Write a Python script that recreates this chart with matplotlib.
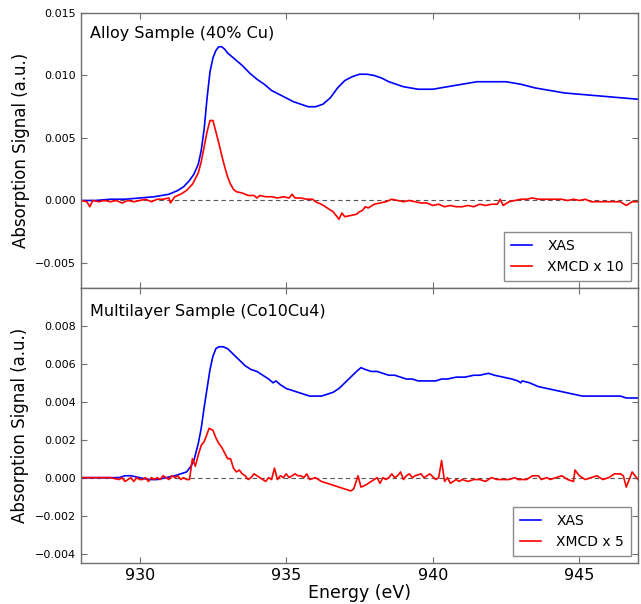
import matplotlib
matplotlib.use("Agg")
import matplotlib.pyplot as plt
from matplotlib.ticker import FuncFormatter

# ---- alloy sample (40% Cu) ----
E_alloy_xas = [928.0, 928.5, 929.0, 929.5, 930.0, 930.5, 931.0, 931.3, 931.5, 931.7,
               931.85, 932.0, 932.1, 932.2, 932.3, 932.4, 932.5, 932.6, 932.7, 932.8,
               932.9, 933.0, 933.25, 933.5, 933.75, 934.0, 934.25, 934.5, 934.75, 935.0,
               935.25, 935.5, 935.75, 936.0, 936.25, 936.5, 936.75, 937.0, 937.25, 937.5,
               937.75, 938.0, 938.25, 938.5, 938.75, 939.0, 939.25, 939.5, 939.75, 940.0,
               940.5, 941.0, 941.5, 942.0, 942.5, 943.0, 943.5, 944.0, 944.5, 945.0,
               945.5, 946.0, 946.5, 947.0]
alloy_xas = [0.0000, 0.0000, 0.0001, 0.0001, 0.0002, 0.0003, 0.0005, 0.0008, 0.0011, 0.0016,
             0.0021, 0.0029, 0.0040, 0.0057, 0.0082, 0.0103, 0.0114, 0.0120, 0.0123, 0.0123,
             0.0121, 0.0118, 0.0113, 0.0108, 0.0102, 0.0097, 0.0093, 0.0088, 0.0085, 0.0082,
             0.0079, 0.0077, 0.0075, 0.0075, 0.0077, 0.0082, 0.0090, 0.0096, 0.0099, 0.0101,
             0.0101, 0.0100, 0.0098, 0.0095, 0.0093, 0.0091, 0.0090, 0.0089, 0.0089, 0.0089,
             0.0091, 0.0093, 0.0095, 0.0095, 0.0095, 0.0093, 0.0090, 0.0088, 0.0086, 0.0085,
             0.0084, 0.0083, 0.0082, 0.0081]

E_alloy_xmcd = [928.0, 928.2, 928.3, 928.4, 928.6, 928.8, 929.0, 929.2, 929.4, 929.6,
                929.8, 930.0, 930.2, 930.4, 930.6, 930.8, 931.0, 931.05, 931.2, 931.4,
                931.6, 931.8, 932.0, 932.1, 932.2, 932.3, 932.4, 932.5, 932.6, 932.7,
                932.8, 932.9, 933.0, 933.1, 933.2, 933.3, 933.5, 933.7, 933.9, 934.0,
                934.1, 934.3, 934.5, 934.7, 934.9, 935.1, 935.2, 935.3, 935.5, 935.7,
                935.9, 936.0, 936.2, 936.4, 936.6, 936.7, 936.8, 936.9, 937.0, 937.2,
                937.4, 937.5, 937.6, 937.7, 937.8, 938.0, 938.2, 938.4, 938.6, 938.8,
                939.0, 939.2, 939.4, 939.6, 939.8, 940.0, 940.2, 940.4, 940.6, 940.8,
                941.0, 941.2, 941.4, 941.6, 941.8, 942.0, 942.2, 942.3, 942.4, 942.6,
                942.8, 943.0, 943.2, 943.4, 943.6, 943.8, 944.0, 944.2, 944.4, 944.6,
                944.8, 945.0, 945.2, 945.4, 945.6, 945.8, 946.0, 946.2, 946.4, 946.6,
                946.8, 947.0]
alloy_xmcd = [0.0000, -0.0001, -0.0005, 0.0000, -0.0001, 0.0000, -0.0001, 0.0000, -0.0002, 0.0000,
              -0.0001, 0.0000, 0.0001, -0.0001, 0.0001, 0.0001, 0.0002, -0.0002, 0.0003, 0.0005,
              0.0008, 0.0013, 0.0022, 0.0031, 0.0043, 0.0055, 0.0064, 0.0064, 0.0055, 0.0046,
              0.0036, 0.0027, 0.0019, 0.0013, 0.0009, 0.0007, 0.0006, 0.0004, 0.0004, 0.0002,
              0.0004, 0.0003, 0.0003, 0.0002, 0.0003, 0.0002, 0.0005, 0.0002, 0.0002, 0.0001,
              0.0001, -0.0001, -0.0003, -0.0006, -0.0009, -0.0012, -0.0015, -0.0010, -0.0013, -0.0012,
              -0.0011, -0.0009, -0.0008, -0.0005, -0.0006, -0.0003, -0.0002, -0.0001, 0.0001, 0.0000,
              -0.0001, 0.0000, -0.0001, -0.0002, -0.0002, -0.0004, -0.0003, -0.0005, -0.0004, -0.0005,
              -0.0005, -0.0004, -0.0005, -0.0003, -0.0004, -0.0003, -0.0003, 0.0001, -0.0004, -0.0001,
              0.0000, 0.0001, 0.0001, 0.0002, 0.0001, 0.0001, 0.0001, 0.0001, 0.0001, 0.0000,
              0.0001, 0.0000, 0.0001, -0.0001, -0.0001, -0.0001, -0.0001, -0.0001, -0.0001, -0.0004,
              -0.0001, -0.0001]

# ---- multilayer sample (Co10Cu4) ----
E_ml_xas = [928.0, 928.5, 929.0, 929.3, 929.5, 929.7, 930.0, 930.3, 930.6, 930.9,
            931.2, 931.4, 931.6, 931.75, 931.85, 932.0, 932.1, 932.2, 932.3, 932.4,
            932.5, 932.6, 932.7, 932.85, 933.0, 933.2, 933.4, 933.6, 933.8, 934.0,
            934.2, 934.4, 934.55, 934.65, 934.8, 935.0, 935.2, 935.4, 935.6, 935.8,
            936.0, 936.2, 936.4, 936.6, 936.8, 937.0, 937.2, 937.4, 937.55, 937.7,
            937.9, 938.1, 938.3, 938.5, 938.7, 938.9, 939.1, 939.3, 939.5, 939.8,
            940.1, 940.3, 940.5, 940.8, 941.1, 941.4, 941.6, 941.9, 942.1, 942.4,
            942.7, 942.9, 943.0, 943.05, 943.3, 943.6, 943.9, 944.2, 944.5, 944.8,
            945.1, 945.5, 946.0, 946.4, 946.6, 947.0]
ml_xas = [0.0000, 0.0000, 0.0000, 0.0000, 0.0001, 0.0001, 0.0000, -0.0001, -0.0001, 0.0000,
          0.0001, 0.0002, 0.0003, 0.0006, 0.0009, 0.0018, 0.0026, 0.0037, 0.0047, 0.0057,
          0.0064, 0.0068, 0.0069, 0.0069, 0.0068, 0.0065, 0.0062, 0.0059, 0.0057, 0.0056,
          0.0054, 0.0052, 0.0050, 0.0051, 0.0049, 0.0047, 0.0046, 0.0045, 0.0044, 0.0043,
          0.0043, 0.0043, 0.0044, 0.0045, 0.0047, 0.0050, 0.0053, 0.0056, 0.0058, 0.0057,
          0.0056, 0.0056, 0.0055, 0.0054, 0.0054, 0.0053, 0.0052, 0.0052, 0.0051, 0.0051,
          0.0051, 0.0052, 0.0052, 0.0053, 0.0053, 0.0054, 0.0054, 0.0055, 0.0054, 0.0053,
          0.0052, 0.0051, 0.0050, 0.0051, 0.0050, 0.0048, 0.0047, 0.0046, 0.0045, 0.0044,
          0.0043, 0.0043, 0.0043, 0.0043, 0.0042, 0.0042]

E_ml_xmcd = [928.0, 928.5, 929.0, 929.3, 929.4, 929.5, 929.6, 929.7, 929.8, 929.9,
             930.0, 930.1, 930.2, 930.3, 930.4, 930.5, 930.6, 930.7, 930.8, 930.9,
             931.0, 931.1, 931.2, 931.3, 931.4, 931.5, 931.6, 931.7, 931.8, 931.9,
             932.0, 932.1, 932.2, 932.3, 932.37, 932.5, 932.6, 932.7, 932.8, 932.9,
             933.0, 933.1, 933.2, 933.3, 933.4, 933.5, 933.6, 933.7, 933.8, 933.9,
             934.0, 934.1, 934.2, 934.3, 934.4, 934.5, 934.6, 934.7, 934.8, 934.9,
             935.0, 935.1, 935.2, 935.3, 935.4, 935.5, 935.6, 935.7, 935.8, 936.0,
             936.2, 936.4, 936.6, 936.8, 937.0, 937.2, 937.3, 937.45, 937.55, 937.7,
             937.9, 938.1, 938.2, 938.3, 938.4, 938.5, 938.6, 938.7, 938.8, 938.9,
             939.0, 939.1, 939.2, 939.3, 939.4, 939.6, 939.7, 939.9, 940.1, 940.2,
             940.3, 940.4, 940.5, 940.6, 940.7, 940.8, 940.9, 941.0, 941.2, 941.4,
             941.6, 941.8, 942.0, 942.2, 942.4, 942.6, 942.8, 942.9, 943.0, 943.2,
             943.4, 943.6, 943.7, 943.9, 944.0, 944.2, 944.4, 944.6, 944.8, 944.85,
             945.0, 945.2, 945.4, 945.6, 945.8, 946.0, 946.2, 946.4, 946.5, 946.6,
             946.8, 947.0]
ml_xmcd = [0.0000, 0.0000, 0.0000, -0.0001, 0.0000, -0.0002, -0.0001, 0.0000, -0.0002, 0.0000,
           -0.0001, -0.0001, 0.0000, -0.0002, 0.0000, -0.0001, 0.0000, -0.0001, 0.0001, 0.0000,
           -0.0001, 0.0001, 0.0000, 0.0001, -0.0001, 0.0000, -0.0001, -0.0001, 0.0010, 0.0006,
           0.0012, 0.0017, 0.0019, 0.0023, 0.0026, 0.0025, 0.0021, 0.0018, 0.0016, 0.0013,
           0.0010, 0.0010, 0.0005, 0.0003, 0.0004, 0.0002, 0.0001, -0.0001, 0.0000, 0.0002,
           0.0001, 0.0000, -0.0001, -0.0002, 0.0000, -0.0001, 0.0005, -0.0001, 0.0001, 0.0000,
           0.0002, 0.0000, 0.0001, 0.0002, 0.0001, 0.0001, 0.0000, 0.0002, -0.0001, 0.0000,
           -0.0002, -0.0003, -0.0004, -0.0005, -0.0006, -0.0007, -0.0006, 0.0001, -0.0005, -0.0004,
           -0.0002, 0.0000, -0.0003, 0.0000, -0.0001, 0.0000, 0.0002, 0.0000, 0.0001, 0.0003,
           -0.0001, 0.0001, 0.0002, 0.0000, 0.0001, 0.0002, 0.0000, 0.0002, -0.0001, 0.0000,
           0.0009, -0.0002, 0.0000, -0.0003, -0.0002, -0.0001, -0.0002, -0.0001, -0.0002, -0.0001,
           -0.0001, -0.0002, 0.0000, -0.0001, -0.0001, -0.0001, 0.0000, -0.0001, -0.0001, -0.0001,
           0.0001, 0.0001, -0.0001, 0.0000, -0.0001, 0.0000, 0.0001, -0.0001, -0.0002, 0.0004,
           0.0001, -0.0001, 0.0000, 0.0001, -0.0001, 0.0000, 0.0002, 0.0002, 0.0001, -0.0005,
           0.0003, -0.0001]

panels = [
    ("Alloy Sample (40% Cu)", E_alloy_xas, alloy_xas, E_alloy_xmcd, alloy_xmcd, "XMCD x 10",
     (-0.007, 0.015), [-0.005, 0.0, 0.005, 0.010, 0.015], 0.927),
    ("Multilayer Sample (Co10Cu4)", E_ml_xas, ml_xas, E_ml_xmcd, ml_xmcd, "XMCD x 5",
     (-0.0045, 0.010), [-0.004, -0.002, 0.0, 0.002, 0.004, 0.006, 0.008], 0.914),
]

GRAY = "#6e6e6e"
fmt = FuncFormatter(lambda v, p: f"{v:.3f}".replace("-", "\u2212"))

fig = plt.figure(figsize=(6.41, 6.04), dpi=100)
gs = fig.add_gridspec(2, 1, left=0.1264, right=0.9953, top=0.9785, bottom=0.0679, hspace=0)

for i, (title, ex, xas, em, xmcd, lab, ylim, yt, ty) in enumerate(panels):
    ax = fig.add_subplot(gs[i])
    ax.axhline(0, color="#555555", ls="--", lw=0.8, dashes=(4, 3))
    ax.plot(ex, xas, color="blue", lw=1.2, label="XAS")
    ax.plot(em, xmcd, color="red", lw=1.2, label=lab)
    ax.set_xlim(928, 947)
    ax.set_ylim(*ylim)
    ax.set_yticks(yt)
    ax.set_xticks([930, 935, 940, 945])
    ax.yaxis.set_major_formatter(fmt)
    ax.tick_params(direction="in", top=True, right=True, length=4, width=0.8,
                   color=GRAY, labelsize=8)
    ax.tick_params(axis="x", labelsize=11.5)
    for s in ax.spines.values():
        s.set_color(GRAY)
        s.set_linewidth(1.0)
    ax.set_ylabel("Absorption Signal (a.u.)", fontsize=12)
    ax.text(0.016, ty, title, transform=ax.transAxes, fontsize=11.5, va="center")
    leg = ax.legend(loc="lower right", fontsize=10, fancybox=False, handlelength=1.5,
                    handletextpad=1.1, borderaxespad=0.5, borderpad=0.5)
    leg.get_frame().set_edgecolor(GRAY)
    if i == 0:
        ax.tick_params(labelbottom=False)
    else:
        ax.set_xlabel("Energy (eV)", fontsize=12.5, labelpad=1)

fig.savefig("out.png", dpi=100)
